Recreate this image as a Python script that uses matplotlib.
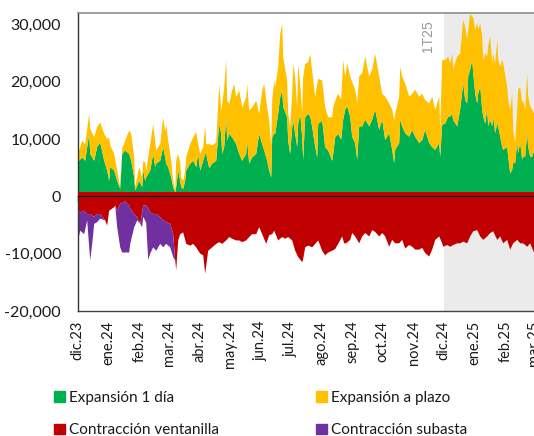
import numpy as np
import pandas as pd
import matplotlib
matplotlib.use("Agg")
import matplotlib.pyplot as plt
from matplotlib.patches import Patch
from matplotlib.ticker import FuncFormatter

plt.rcParams['font.family'] = ['Lato', 'DejaVu Sans']

START = pd.Timestamp('2023-12-01')
END = pd.Timestamp('2025-03-01')

month_labels = ['dic.23', 'ene.24', 'feb.24', 'mar.24', 'abr.24', 'may.24', 'jun.24',
                'jul.24', 'ago.24', 'sep.24', 'oct.24', 'nov.24', 'dic.24', 'ene.25',
                'feb.25', 'mar.25']
y_ticks = [-20000, -10000, 0, 10000, 20000, 30000]

# ---- Expansion side (days since 1-dic-2023, values in thousands) ----
exp_days = [0, 1, 4, 7, 11, 12, 16, 19, 22, 26, 29, 31, 32, 36, 39, 42, 44, 47, 51, 53,
            56, 57, 61, 64, 65, 67, 68, 72, 75, 77, 78, 82, 85, 87, 88, 90, 93, 95, 97, 98,
            100, 102, 103, 105, 107, 108, 112, 115, 118, 120, 122, 125, 127, 128, 131, 134, 138, 141, 143, 144,
            146, 148, 149, 151, 154, 156, 158, 161, 164, 168, 169, 171, 174, 178, 181, 184, 186, 189, 191, 193,
            194, 196, 197, 200, 202, 204, 205, 209, 210, 212, 214, 215, 217, 219, 220, 222, 224, 225, 227, 230,
            232, 234, 237, 239, 240, 244, 247, 250, 254, 255, 257, 260, 263, 265, 267, 269, 272, 274, 277, 279,
            281, 284, 287, 291, 294, 297, 301, 304, 307, 311, 314, 316, 317, 321, 322, 324, 327, 331, 334, 337,
            341, 344, 347, 351, 354, 357, 361, 362, 364, 367, 370, 372, 374, 375, 379, 382, 385, 387, 389, 390,
            392, 394, 395, 397, 399, 400, 402, 404, 405, 407, 409, 410, 412, 414, 415, 417, 419, 420, 422, 424,
            425, 429, 430, 432, 434, 435, 437, 439, 440, 442, 444, 445, 447, 449, 450, 452, 454, 456]

exp_1dia_k = [7.5, 6.3, 6.9, 6.3, 11.0, 7.5, 6.3, 8.7, 9.5, 6.3, 4.6, 2.8, 5.2, 4.6, 2.8, 1.4, 7.5, 8.1, 7.5, 6.3,
              3.4, 1.1, 2.8, 1.7, 4.6, 2.8, 3.4, 4.6, 7.5, 5.2, 5.8, 6.3, 8.7, 6.9, 5.8, 5.2, 3.4, 1.7, 0.8, 1.7,
              4.6, 2.8, 1.7, 1.4, 2.8, 4.6, 5.8, 6.3, 5.2, 7.5, 4.6, 6.3, 7.5, 7.5, 5.0, 5.8, 6.3, 12.7, 11.0, 7.5,
              8.7, 13.9, 9.8, 11.0, 10.4, 9.8, 9.2, 7.5, 6.3, 7.5, 9.8, 5.8, 6.9, 7.5, 11.0, 9.2, 8.1, 6.3, 4.6, 3.4,
              10.4, 11.0, 11.0, 14.5, 17.4, 18.6, 15.7, 13.9, 9.8, 7.5, 12.2, 13.3, 11.0, 8.7, 12.7, 14.5, 10.4, 6.5, 13.9, 14.5,
              14.0, 12.2, 8.7, 6.9, 12.7, 13.3, 8.7, 8.1, 6.3, 7.5, 10.4, 11.0, 10.0, 13.5, 15.2, 15.8, 14.0, 10.5, 9.4, 6.5,
              12.3, 12.3, 13.5, 12.3, 13.5, 15.2, 11.7, 13.5, 9.9, 11.1, 8.2, 5.9, 8.2, 9.4, 13.5, 12.3, 11.1, 10.5, 11.7, 10.5,
              9.4, 9.9, 11.7, 9.4, 8.7, 8.2, 9.4, 7.0, 12.6, 12.8, 14.0, 14.0, 14.5, 13.4, 12.3, 15.2, 19.8, 16.9, 16.3, 21.0,
              22.2, 23.9, 21.6, 18.0, 16.3, 18.0, 19.2, 15.2, 14.0, 12.8, 15.2, 12.3, 13.4, 12.3, 14.0, 11.1, 12.8, 12.3, 10.5, 8.7,
              8.2, 8.7, 7.0, 4.1, 4.7, 5.9, 5.9, 9.4, 7.6, 9.4, 6.5, 7.0, 7.0, 11.1, 8.7, 7.0, 7.0, 8.2]

exp_plazo_k = [1.2, 1.8, 2.9, 2.9, 3.5, 4.4, 4.1, 3.5, 3.5, 4.7, 5.5, 7.6, 3.8, 2.9, 1.8, 0.3, 0.9, 1.7, 4.1, 4.7,
               3.5, 0.6, 2.4, 1.7, 1.7, 3.2, 1.2, 4.6, 5.2, 4.6, 2.3, 2.9, 5.2, 4.4, 6.9, 4.6, 2.9, 1.1, 0.3, 4.6,
               2.9, 3.2, 1.7, 1.4, 1.8, 2.3, 3.4, 4.1, 6.1, 1.7, 2.9, 2.4, 4.9, 1.7, 4.2, 3.2, 3.2, 7.0, 4.1, 8.7,
               10.4, 9.9, 7.0, 5.2, 8.2, 9.9, 8.2, 11.1, 9.3, 9.9, 9.9, 9.3, 8.7, 9.3, 3.5, 9.4, 11.6, 9.3, 8.7, 5.3,
               6.4, 9.3, 8.1, 8.1, 11.0, 11.6, 8.7, 6.4, 4.7, 4.7, 5.8, 9.9, 9.9, 6.9, 10.5, 5.2, 4.1, 14.4, 9.3, 9.0,
               10.9, 9.8, 8.7, 12.8, 7.9, 7.0, 6.9, 5.8, 7.6, 8.1, 6.4, 7.0, 7.0, 10.4, 5.8, 7.5, 7.0, 9.5, 9.3, 9.8,
               8.7, 9.3, 11.0, 8.7, 8.7, 9.8, 9.3, 4.5, 7.6, 5.2, 7.0, 7.5, 6.3, 8.1, 9.2, 8.7, 8.7, 7.0, 6.3, 8.2,
               8.1, 8.1, 5.2, 6.9, 8.8, 7.0, 8.1, 4.6, 11.3, 11.1, 10.5, 9.3, 10.5, 8.8, 12.2, 9.8, 11.1, 12.8, 11.1, 8.1,
               9.8, 7.5, 9.8, 11.1, 14.0, 11.1, 11.1, 12.8, 9.9, 12.2, 9.3, 13.9, 14.6, 11.0, 11.0, 12.2, 14.6, 11.6, 12.2, 15.2,
               15.1, 10.5, 9.9, 11.1, 13.3, 5.8, 3.5, 5.8, 11.1, 9.8, 9.8, 9.9, 8.2, 10.5, 8.8, 8.8, 8.2, 6.3]

# ---- Contraction side (days since 1-dic-2023, values in thousands) ----
con_days = [0, 2, 6, 9, 11, 12, 14, 16, 19, 22, 27, 29, 31, 36, 37, 39, 42, 44, 47, 51,
            52, 56, 59, 62, 64, 65, 68, 70, 72, 75, 78, 82, 85, 88, 92, 95, 97, 98, 100, 102,
            105, 108, 112, 115, 118, 122, 125, 127, 130, 134, 138, 141, 144, 148, 151, 154, 158, 161, 164, 168,
            171, 174, 178, 181, 184, 188, 191, 194, 196, 200, 204, 207, 210, 214, 217, 220, 224, 225, 227, 230,
            234, 237, 240, 244, 247, 250, 254, 257, 260, 264, 266, 268, 272, 274, 277, 281, 284, 287, 291, 294,
            297, 301, 304, 307, 311, 314, 317, 321, 324, 327, 331, 334, 337, 341, 344, 347, 351, 354, 357, 361,
            364, 365, 369, 372, 375, 379, 382, 385, 389, 392, 395, 399, 402, 405, 409, 412, 415, 419, 422, 425,
            429, 432, 435, 439, 442, 445, 449, 452, 456]

con_ventanilla_k = [-2.4, -2.7, -2.4, -3.0, -3.0, -3.0, -3.2, -3.5, -3.0, -3.0, -4.1, -5.0, -2.4, -1.8, -1.5, -2.4, -1.2, -1.0, -0.8, -1.5,
                    -2.0, -3.0, -3.5, -4.7, -2.7, -1.5, -1.5, -2.0, -2.7, -3.0, -3.0, -3.5, -4.1, -4.4, -4.7, -6.5, -11.1, -12.8, -7.6, -6.5,
                    -6.2, -8.2, -8.5, -8.2, -8.8, -9.9, -10.2, -13.4, -9.4, -8.8, -8.2, -7.9, -8.2, -7.6, -7.0, -7.3, -7.6, -7.6, -7.9, -7.6,
                    -7.0, -6.5, -6.5, -5.3, -6.5, -8.2, -6.7, -6.5, -5.9, -7.6, -7.0, -7.3, -7.0, -7.6, -9.4, -10.5, -11.4, -10.8, -8.8, -8.5,
                    -8.8, -8.2, -7.6, -9.4, -10.2, -9.7, -9.4, -9.1, -8.2, -6.9, -8.1, -8.1, -7.5, -6.3, -6.9, -8.1, -6.9, -6.3, -6.9, -5.8,
                    -6.1, -6.9, -6.3, -6.9, -8.7, -7.5, -8.1, -8.1, -7.5, -9.0, -8.4, -8.7, -9.2, -9.2, -8.9, -9.8, -10.4, -9.2, -7.5, -6.9,
                    -8.1, -8.7, -8.4, -8.7, -8.4, -8.1, -8.1, -7.8, -8.1, -6.9, -6.0, -5.8, -6.9, -7.5, -6.9, -6.3, -6.0, -7.5, -6.9, -8.1,
                    -7.5, -9.2, -8.1, -7.5, -8.1, -8.1, -8.7, -8.1, -9.8]

# auction contraction (only present until early March 2024; first entries of con_days)
con_subasta_k = [-5.2, -3.2, -4.1, -1.1, -5.8, -8.1, -5.0, -1.2, -1.4, -0.8, 0.0, 0.0, 0.0, 0.0, 0.0, -2.9, -7.6, -8.7, -8.9, -8.2,
                 -6.2, -2.3, -0.6, 0.0, -2.6, -2.0, -3.0, -9.0, -7.2, -5.8, -6.4, -4.7, -4.7, -3.8, -4.1, -4.0, 0.0, 0.0, 0.0, 0.0]

quarter_label = '1T25'
quarter_start = pd.Timestamp('2024-12-01')

GREEN = '#00B050'
YELLOW = '#FFC000'
RED = '#C00000'
PURPLE = '#7030A0'

# ---- build arrays ----
xe = np.array(exp_days, dtype=float)
g = np.array(exp_1dia_k) * 1000
p = np.array(exp_plazo_k) * 1000
xc = np.array(con_days, dtype=float)
r = np.array(con_ventanilla_k) * 1000
ns = len(con_subasta_k)
s = np.array(con_subasta_k) * 1000

month_starts = pd.date_range(START, END, freq='MS')
tick_pos = [(m - START).days for m in month_starts]
xmax = (END - START).days
q_x = (quarter_start - START).days

fig = plt.figure(figsize=(5.34, 4.36), dpi=100)
ax = fig.add_axes([77.7 / 534, 1 - 311 / 436, 456 / 534, (311 - 13) / 436])

ax.axvspan(q_x, xmax, color='#EBEBEB', lw=0, zorder=0)

ax.fill_between(xe, 0, g, color=GREEN, lw=0, zorder=2)
ax.fill_between(xe, g, g + p, color=YELLOW, lw=0, zorder=2)
ax.fill_between(xc, 0, r, color=RED, lw=0, zorder=2)
ax.fill_between(xc[:ns], r[:ns], r[:ns] + s, color=PURPLE, lw=0, zorder=2)
ax.axhspan(0, 850, color=RED, lw=0, zorder=3)

ax.set_xlim(0, xmax)
ax.set_ylim(-20000, 32000)
ax.set_yticks(y_ticks)
ax.yaxis.set_major_formatter(FuncFormatter(lambda v, _: f'{v:,.0f}'))
ax.tick_params(axis='y', length=0, pad=12, labelsize=11.5, labelcolor='#1a1a1a')

# zero line with tick marks
ax.spines['bottom'].set_position(('data', 0))
ax.spines['bottom'].set_color('#111111')
ax.spines['bottom'].set_linewidth(0.9)
ax.spines['bottom'].set_zorder(4)
ax.set_xticks(tick_pos)
ax.tick_params(axis='x', direction='out', length=4, width=1, color='#111111', labelbottom=False)
ax.spines['right'].set_visible(False)
ax.spines['top'].set_color('#8C8C8C')
ax.spines['top'].set_linewidth(1.2)
ax.spines['left'].set_color('#333333')
ax.spines['left'].set_linewidth(1.0)

# month labels along the bottom frame
sec = ax.secondary_xaxis('bottom')
sec.set_xticks(tick_pos, labels=month_labels)
sec.tick_params(length=0, pad=7, labelsize=10.5, labelrotation=90, labelcolor='#1a1a1a')
sec.spines['bottom'].set_color('#444444')
sec.spines['bottom'].set_linewidth(1.0)

ax.annotate(quarter_label, xy=(q_x, 1), xycoords=('data', 'axes fraction'),
            xytext=(-6, -5), textcoords='offset points', rotation=90,
            ha='right', va='top', fontsize=10, color='#999999',
            family=['Liberation Sans', 'DejaVu Sans'])

leg_kw = dict(frameon=False, fontsize=11, handlelength=0.7, handleheight=0.7,
              handletextpad=0.3, labelspacing=1.2, borderpad=0, borderaxespad=0,
              loc='upper left')
l1 = fig.legend(handles=[Patch(color=GREEN, label='Expansión 1 día'),
                         Patch(color=RED, label='Contracción ventanilla')],
                bbox_to_anchor=(54 / 534, 1 - 391 / 436), **leg_kw)
l2 = fig.legend(handles=[Patch(color=YELLOW, label='Expansión a plazo'),
                         Patch(color=PURPLE, label='Contracción subasta')],
                bbox_to_anchor=(316 / 534, 1 - 391 / 436), **leg_kw)
for lg in (l1, l2):
    for t in lg.get_texts():
        t.set_color('#1a1a1a')

fig.savefig('out.png', dpi=100)
